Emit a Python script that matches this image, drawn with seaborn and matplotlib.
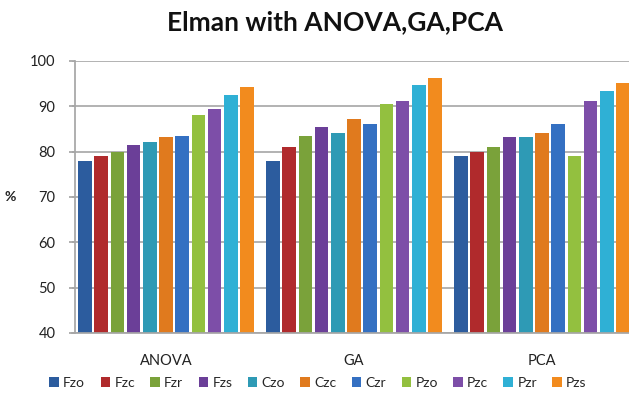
import matplotlib
matplotlib.use("Agg")
import matplotlib.pyplot as plt
import seaborn as sns
import pandas as pd

categories = ["ANOVA", "GA", "PCA"]
series = ["Fzo", "Fzc", "Fzr", "Fzs", "Czo", "Czc", "Czr", "Pzo", "Pzc", "Pzr", "Pzs"]
anova = [78.0, 79.0, 80.0, 81.5, 82.1, 83.2, 83.4, 88.0, 89.5, 92.4, 94.3]
ga = [78.0, 81.1, 83.5, 85.5, 84.1, 87.3, 86.1, 90.6, 91.2, 94.6, 96.3]
pca = [79.0, 80.0, 81.1, 83.3, 83.2, 84.2, 86.1, 79.0, 91.2, 93.4, 95.2]
colors = ["#2C5C9E", "#B02A2C", "#7AA23A", "#6B3F98", "#2E9AB5", "#E07A1E",
          "#3470C2", "#93C03F", "#7D4EA8", "#2FB0D5", "#F28B1E"]

rows = []
for cat, vals in zip(categories, [anova, ga, pca]):
    for s, v in zip(series, vals):
        rows.append({"cat": cat, "series": s, "value": v})
df = pd.DataFrame(rows)

sns.set_theme(style="white")
plt.rcParams["font.family"] = ["Lato", "DejaVu Sans"]

W, H = 629, 401
fig = plt.figure(figsize=(W / 100, H / 100), dpi=100)
left_px, right_px, top_px, bot_px = 72, 629, 61, 333
ax = fig.add_axes([left_px / W, 1 - bot_px / H, (right_px - left_px) / W, (bot_px - top_px) / H])

sns.barplot(data=df, x="cat", y="value", hue="series", palette=colors,
            width=0.95, gap=0.17, ax=ax, saturation=1, legend=True,
            edgecolor="none")

ax.set_ylim(40, 100)
ax.set_xlim(-0.5, (right_px - left_px) / 188 - 0.5)
ax.set_yticks(range(40, 101, 10))
ax.yaxis.grid(True, color="#A6A6A6", linewidth=1.2)
ax.set_axisbelow(True)
for s in ["top", "right"]:
    ax.spines[s].set_visible(False)
ax.spines["left"].set_color("#A6A6A6")
ax.spines["bottom"].set_color("#A6A6A6")
ax.spines["left"].set_position(("data", -0.485))
ax.tick_params(axis="y", left=True, length=4, color="#A6A6A6", labelsize=10.5, pad=10, colors="#A6A6A6", labelcolor="#222222")
ax.tick_params(axis="x", bottom=False, labelsize=10.5, pad=9, labelcolor="#222222")
ax.set_xlabel("")
ax.set_ylabel("%", rotation=0, fontsize=10, fontweight="bold", labelpad=14, va="center", color="#222222")

fig.text(335 / W, 1 - 22 / H, "Elman with ANOVA,GA,PCA", ha="center", va="center",
         fontsize=19, fontweight="bold", color="#111111")

handles, labels = ax.get_legend_handles_labels()
ax.get_legend().remove()
fig.legend(handles, labels, loc="center", bbox_to_anchor=(318 / W, 1 - 383 / H), ncol=11,
           frameon=False, fontsize=10, handlelength=0.7, handleheight=0.7,
           handletextpad=0.3, columnspacing=1.1, borderaxespad=0)

fig.savefig("out.png", dpi=100)
